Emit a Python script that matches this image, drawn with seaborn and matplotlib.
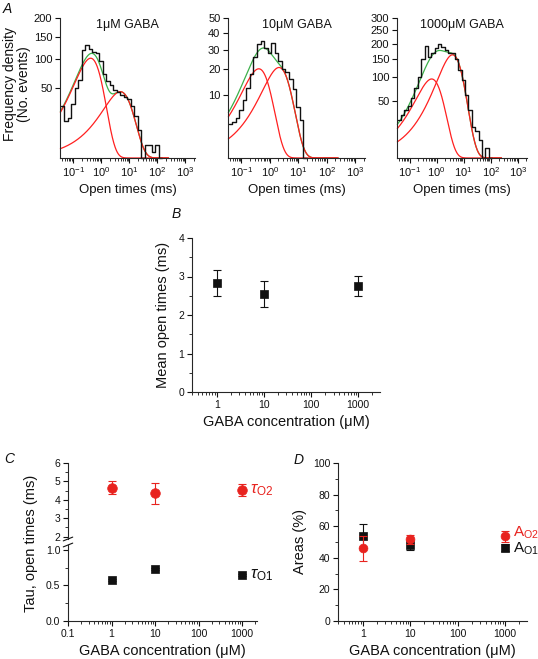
import numpy as np
import matplotlib
matplotlib.use('Agg')
import matplotlib.pyplot as plt
import seaborn as sns
from matplotlib.ticker import LogLocator, NullFormatter, FixedLocator, FuncFormatter, MultipleLocator

# ---------------- data ----------------
hist_titles = ['1μM GABA', '10μM GABA', '1000μM GABA']
bin_log_start = -1.45      # log10(ms) of first bin edge
bin_log_width = 0.125      # log10 units per bin
hist_1uM = [28, 14, 16, 30, 50, 62, 118, 130, 122, 114, 112, 96, 72, 60, 55, 47,
            45, 40, 38, 36, 28, 18, 8, 0, 1.7, 1.7, 0.4, 1.7, 0]
hist_10uM = [2.9, 3.3, 4.0, 5.9, 8.5, 12.5, 18, 26, 33, 35, 31, 28, 34, 28, 24,
             20, 19, 16, 12, 6.7, 3.7, 0]
hist_1000uM = [22, 28, 35, 42, 55, 75, 100, 150, 192, 155, 170, 185, 200, 190, 180,
               170, 168, 150, 118, 92, 60, 35, 15, 11, 5, 0, 1.5, 0]
# fitted exponential components (tau in ms, peak height in Sigworth-Sine plot)
fit_tau1 = [0.42, 0.41, 0.65]
fit_amp1 = [101.6, 20.3, 95.6]
fit_tau2 = [4.8, 2.1, 3.85]
fit_amp2 = [44.9, 20.9, 163.0]
hist_ymax = [200, 50, 300]
hist_yticks = [[50, 100, 150, 200], [10, 20, 30, 40, 50], [50, 100, 150, 200, 250, 300]]

gaba_conc = [1, 10, 1000]
mean_open = [2.83, 2.55, 2.76]
mean_open_err = [0.335, 0.335, 0.26]
tau_o1 = [0.577, 0.732, 0.648]
tau_o1_err = [0.015, 0.015, 0.015]
tau_o2 = [4.67, 4.36, 4.52]
tau_o2_err = [0.37, 0.56, 0.32]
area_o1 = [53.9, 48.0, 46.5]
area_o1_err = [7.8, 3.2, 2.4]
area_o2 = [45.9, 51.6, 53.5]
area_o2_err = [7.8, 2.7, 3.2]

# ---------------- style ----------------
sns.set_style('ticks')
plt.rcParams['font.family'] = ['Liberation Sans', 'DejaVu Sans']
plt.rcParams['mathtext.fontset'] = 'custom'
plt.rcParams['mathtext.rm'] = 'Liberation Sans'
plt.rcParams['mathtext.it'] = 'Liberation Sans:italic'
plt.rcParams['mathtext.bf'] = 'Liberation Sans:bold'
plt.rcParams['axes.linewidth'] = 0.8
plt.rcParams['xtick.major.width'] = 0.8
plt.rcParams['ytick.major.width'] = 0.8
plt.rcParams['xtick.minor.width'] = 0.6
plt.rcParams['ytick.minor.width'] = 0.6
plt.rcParams['xtick.major.size'] = 3.5
plt.rcParams['ytick.major.size'] = 3.5
plt.rcParams['xtick.minor.size'] = 2.2
plt.rcParams['ytick.minor.size'] = 2.2
plt.rcParams['xtick.direction'] = 'out'
plt.rcParams['ytick.direction'] = 'out'
plt.rcParams['text.color'] = '#111111'
plt.rcParams['axes.labelcolor'] = '#111111'
plt.rcParams['xtick.color'] = '#111111'
plt.rcParams['ytick.color'] = '#111111'

RED = '#e8231f'
FIT_RED = '#ff2020'
GREEN = '#3cb04a'
BLACK = '#111111'

W, H = 538, 659
fig = plt.figure(figsize=(W / 100, H / 100), dpi=100)


def add_ax(l, t, r, b):
    return fig.add_axes([l / W, 1 - b / H, (r - l) / W, (b - t) / H])


def style_ax(ax):
    sns.despine(ax=ax)


# ---------------- panel A ----------------
A_boxes = [(60, 18, 195, 158), (228, 18, 365, 158), (397, 18, 527, 158)]
hists = [hist_1uM, hist_10uM, hist_1000uM]
fwd = lambda v: np.sqrt(np.clip(v, 0, None))
inv = lambda v: np.square(v)
t = np.logspace(np.log10(0.035), np.log10(250), 500)
for i in range(3):
    ax = add_ax(*A_boxes[i])
    ax.set_xscale('log')
    ax.set_yscale('function', functions=(fwd, inv))
    c1 = fit_amp1[i] * (t / fit_tau1[i]) * np.exp(1 - t / fit_tau1[i])
    c2 = fit_amp2[i] * (t / fit_tau2[i]) * np.exp(1 - t / fit_tau2[i])
    sns.lineplot(x=t, y=c1 + c2, color=GREEN, lw=0.9, ax=ax, sort=False, estimator=None)
    sns.lineplot(x=t, y=c1, color=FIT_RED, lw=0.9, ax=ax, sort=False, estimator=None)
    sns.lineplot(x=t, y=c2, color=FIT_RED, lw=0.9, ax=ax, sort=False, estimator=None)
    counts = np.array(hists[i], dtype=float)
    edges = 10 ** (bin_log_start + bin_log_width * np.arange(len(counts) + 1))
    sns.lineplot(x=edges, y=np.append(counts, 0), drawstyle='steps-post', color=BLACK,
                 lw=1.0, ax=ax, sort=False, estimator=None)
    for ln in ax.lines:
        ln.set_clip_on(False)
    ax.set_xlim(0.034, 2200)
    ax.set_ylim(0, hist_ymax[i])
    ax.yaxis.set_major_locator(FixedLocator(hist_yticks[i]))
    ax.yaxis.set_minor_locator(FixedLocator([]))
    ax.xaxis.set_major_locator(LogLocator(base=10, numticks=10))
    ax.xaxis.set_minor_locator(LogLocator(base=10, subs=np.arange(2, 10), numticks=20))
    ax.xaxis.set_minor_formatter(NullFormatter())
    ax.tick_params(labelsize=8, pad=2)
    ax.set_xlabel('Open times (ms)', fontsize=9.5, labelpad=3)
    ax.set_ylabel('')
    ax.text(0.5, 0.95, hist_titles[i], transform=ax.transAxes, ha='center', va='center',
            fontsize=9)
    style_ax(ax)

fig.text(17 / W, 1 - 84 / H, 'Frequency density\n(No. events)', rotation=90,
         ha='center', va='center', fontsize=10, multialignment='center', linespacing=1.05)
fig.text(3 / W, 1 - 9 / H, 'A', fontsize=10, style='italic', ha='left', va='center')


def conc_axis(ax, xmin, xmax, labels):
    ax.set_xscale('log')
    ax.set_xlim(xmin, xmax)
    ax.xaxis.set_major_locator(FixedLocator(labels))
    ax.xaxis.set_major_formatter(FuncFormatter(lambda v, _: f'{v:g}'))
    ax.xaxis.set_minor_locator(LogLocator(base=10, subs=np.arange(2, 10), numticks=20))
    ax.xaxis.set_minor_formatter(NullFormatter())


# ---------------- panel B ----------------
axB = add_ax(192, 238, 380, 392)
axB.errorbar(gaba_conc, mean_open, yerr=mean_open_err, fmt='none', ecolor=BLACK,
             elinewidth=0.8, capsize=2.8, capthick=0.8, zorder=2)
sns.scatterplot(x=gaba_conc, y=mean_open, marker='s', s=34, color=BLACK, edgecolor=BLACK,
                linewidth=0.5, ax=axB, zorder=3)
conc_axis(axB, 0.3, 2900, [1, 10, 100, 1000])
axB.set_ylim(0, 4)
axB.yaxis.set_major_locator(MultipleLocator(1))
axB.yaxis.set_minor_locator(MultipleLocator(0.5))
axB.tick_params(labelsize=7.5, pad=2)
axB.set_xlabel('GABA concentration (μM)', fontsize=10.5, labelpad=4)
axB.set_ylabel('Mean open times (ms)', fontsize=10.5, labelpad=6)
style_ax(axB)
fig.text(176 / W, 1 - 214 / H, 'B', fontsize=10, style='italic', ha='center', va='center')

# ---------------- panel C (broken axis) ----------------
axCt = add_ax(68, 463, 257, 539)
axCb = add_ax(68, 545, 257, 621)
axCt.errorbar(gaba_conc, tau_o2, yerr=tau_o2_err, fmt='none', ecolor=RED,
              elinewidth=0.8, capsize=2.8, capthick=0.8, zorder=2)
sns.scatterplot(x=gaba_conc, y=tau_o2, marker='o', s=48, color=RED, edgecolor=RED,
                linewidth=0.5, ax=axCt, zorder=3)
axCb.errorbar(gaba_conc, tau_o1, yerr=tau_o1_err, fmt='none', ecolor=BLACK,
              elinewidth=0.8, capsize=2.8, capthick=0.8, zorder=2)
sns.scatterplot(x=gaba_conc, y=tau_o1, marker='s', s=30, color=BLACK, edgecolor=BLACK,
                linewidth=0.5, ax=axCb, zorder=3)
for ax in (axCt, axCb):
    conc_axis(ax, 0.1, 2200, [0.1, 1, 10, 100, 1000])
    ax.tick_params(labelsize=7.5, pad=2)
    ax.set_ylabel('')
axCt.set_ylim(1.875, 6)
axCt.yaxis.set_major_locator(MultipleLocator(1))
axCt.yaxis.set_minor_locator(MultipleLocator(0.5))
axCt.spines['bottom'].set_visible(False)
axCt.spines['top'].set_visible(False)
axCt.spines['right'].set_visible(False)
axCt.tick_params(axis='x', which='both', bottom=False, labelbottom=False)
axCb.set_ylim(0, 1.07)
axCb.yaxis.set_major_locator(FixedLocator([0.0, 0.5, 1.0]))
axCb.yaxis.set_major_formatter(FuncFormatter(lambda v, _: f'{v:.1f}'))
axCb.yaxis.set_minor_locator(MultipleLocator(0.25))
style_ax(axCb)
axCb.set_xlabel('GABA concentration (μM)', fontsize=10.5, labelpad=4)
# break marks
for ax, y0 in ((axCt, 0.0), (axCb, 1.0)):
    ax.plot([-0.025, 0.025], [y0 - 0.025, y0 + 0.025], transform=ax.transAxes,
            color=BLACK, lw=0.8, clip_on=False)
axCt.annotate(r'$\tau_{\mathrm{O2}}$', xy=(1000, tau_o2[2]), xytext=(6, 0),
              textcoords='offset points', color=RED, fontsize=12, va='center', ha='left',
              annotation_clip=False)
axCb.annotate(r'$\tau_{\mathrm{O1}}$', xy=(1000, tau_o1[2]), xytext=(6, 0),
              textcoords='offset points', color=BLACK, fontsize=12, va='center', ha='left',
              annotation_clip=False)
fig.text(31 / W, 1 - 543 / H, 'Tau, open times (ms)', rotation=90, ha='center',
         va='center', fontsize=10.5)
fig.text(9 / W, 1 - 459 / H, 'C', fontsize=10, style='italic', ha='center', va='center')

# ---------------- panel D ----------------
axD = add_ax(338, 463, 527, 621)
axD.errorbar(gaba_conc, area_o1, yerr=area_o1_err, fmt='none', ecolor=BLACK,
             elinewidth=0.8, capsize=2.8, capthick=0.8, zorder=2)
sns.scatterplot(x=gaba_conc, y=area_o1, marker='s', s=30, color=BLACK, edgecolor=BLACK,
                linewidth=0.5, ax=axD, zorder=3)
axD.errorbar(gaba_conc, area_o2, yerr=area_o2_err, fmt='none', ecolor=RED,
             elinewidth=0.8, capsize=2.8, capthick=0.8, zorder=4)
sns.scatterplot(x=gaba_conc, y=area_o2, marker='o', s=40, color=RED, edgecolor=RED,
                linewidth=0.5, ax=axD, zorder=5)
conc_axis(axD, 0.3, 2900, [1, 10, 100, 1000])
axD.set_ylim(0, 100)
axD.yaxis.set_major_locator(MultipleLocator(20))
axD.yaxis.set_minor_locator(MultipleLocator(10))
axD.tick_params(labelsize=7.5, pad=2)
axD.set_xlabel('GABA concentration (μM)', fontsize=10.5, labelpad=4)
axD.set_ylabel('Areas (%)', fontsize=10.5, labelpad=4)
style_ax(axD)
axD.annotate(r'$\mathrm{A}_{\mathrm{O2}}$', xy=(1000, area_o2[2]), xytext=(6, 3),
             textcoords='offset points', color=RED, fontsize=11, va='center', ha='left',
             annotation_clip=False)
axD.annotate(r'$\mathrm{A}_{\mathrm{O1}}$', xy=(1000, area_o1[2]), xytext=(6, -1),
             textcoords='offset points', color=BLACK, fontsize=11, va='center', ha='left',
             annotation_clip=False)
fig.text(299 / W, 1 - 460 / H, 'D', fontsize=10, style='italic', ha='center', va='center')

fig.savefig('out.png', dpi=100)
